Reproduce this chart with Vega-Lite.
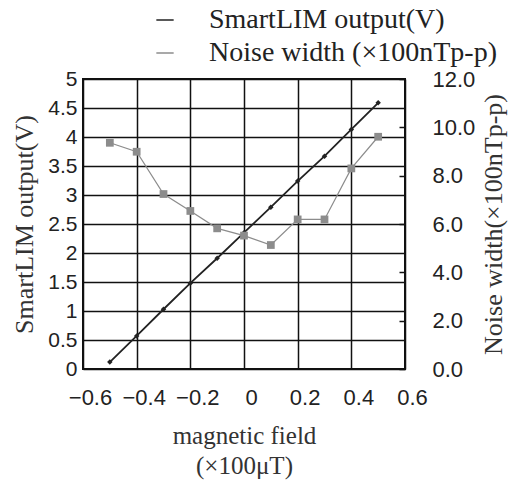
{
  "$schema": "https://vega.github.io/schema/vega-lite/v6.json",
  "width": 322,
  "height": 290,
  "autosize": {"type": "none"},
  "padding": {"left": 83, "top": 79, "right": 104, "bottom": 117},
  "background": "white",
  "config": {
    "view": {"stroke": "#111", "strokeWidth": 2},
    "axis": {
      "domain": false,
      "ticks": false,
      "gridColor": "#111",
      "gridWidth": 1.5,
      "gridOpacity": 1,
      "labelFont": "Liberation Sans",
      "labelFontSize": 21,
      "labelColor": "#222",
      "labelOverlap": false,
      "labelFlush": false,
      "titleFont": "Liberation Serif",
      "titleFontSize": 26,
      "titleFontWeight": "normal",
      "titleColor": "#333"
    },
    "legend": {"labelFontSize": 28}
  },
  "data": {
    "values": [
      {"B": -0.5, "out": 0.12, "noise": 9.36},
      {"B": -0.4, "out": 0.57, "noise": 8.99},
      {"B": -0.3, "out": 1.03, "noise": 7.24},
      {"B": -0.2, "out": 1.48, "noise": 6.54},
      {"B": -0.1, "out": 1.91, "noise": 5.82},
      {"B": 0.0, "out": 2.35, "noise": 5.52},
      {"B": 0.1, "out": 2.79, "noise": 5.13},
      {"B": 0.2, "out": 3.24, "noise": 6.19},
      {"B": 0.3, "out": 3.67, "noise": 6.19},
      {"B": 0.4, "out": 4.13, "noise": 8.3},
      {"B": 0.5, "out": 4.59, "noise": 9.61}
    ]
  },
  "encoding": {
    "x": {
      "field": "B",
      "type": "quantitative",
      "scale": {"domain": [-0.6, 0.6], "nice": false, "zero": false},
      "axis": {
        "values": [-0.6, -0.4, -0.2, 0, 0.2, 0.4, 0.6],
        "format": ".1~f",
        "labelFontSize": 22,
        "labelPadding": 18,
        "labelOffset": 7,
        "title": ["magnetic field", "(×100μT)"],
        "titlePadding": 15,
        "titleFontSize": 25,
        "titleLineHeight": 30
      }
    }
  },
  "layer": [
    {
      "mark": {"type": "line", "strokeWidth": 1.8, "point": {"shape": "diamond", "size": 30, "filled": true}},
      "encoding": {
        "y": {
          "field": "out",
          "type": "quantitative",
          "scale": {"domain": [0, 5], "nice": false},
          "axis": {
            "orient": "left",
            "values": [0, 0.5, 1, 1.5, 2, 2.5, 3, 3.5, 4, 4.5, 5],
            "format": ".1~f",
            "labelPadding": 6,
            "title": "SmartLIM output(V)",
            "titlePadding": 10
          }
        },
        "color": {
          "datum": "SmartLIM output(V)",
          "type": "nominal",
          "scale": {"domain": ["SmartLIM output(V)", "Noise width (×100nTp-p)"], "range": ["#222222", "#8c8c8c"]},
          "legend": {
            "orient": "none",
            "legendX": 68,
            "legendY": -73,
            "title": null,
            "labelFont": "Liberation Serif",
            "labelFontSize": 28,
            "labelColor": "#222",
            "labelLimit": 0,
            "labelOffset": 30,
            "rowPadding": 5,
            "symbolSize": 300,
            "symbolStrokeWidth": 1.5
          }
        }
      }
    },
    {
      "mark": {"type": "line", "strokeWidth": 1.2, "point": {"shape": "square", "size": 60, "filled": true}},
      "encoding": {
        "y": {
          "field": "noise",
          "type": "quantitative",
          "scale": {"domain": [0, 12], "nice": false},
          "axis": {
            "orient": "right",
            "grid": false,
            "ticks": true,
            "tickSize": -6,
            "tickColor": "#111",
            "tickWidth": 1.5,
            "values": [0, 2, 4, 6, 8, 10, 12],
            "format": ".1f",
            "labelFontSize": 22,
            "labelPadding": 33,
            "title": "Noise width(×100nTp-p)",
            "titleAngle": 270,
            "titlePadding": 32
          }
        },
        "color": {"datum": "Noise width (×100nTp-p)", "type": "nominal"}
      }
    }
  ],
  "resolve": {"scale": {"y": "independent"}}
}
